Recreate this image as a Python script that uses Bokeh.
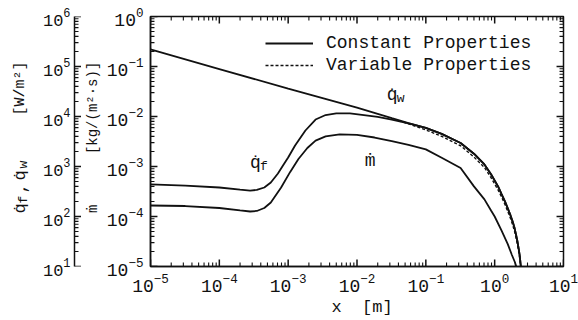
import math
from bokeh.plotting import figure
from bokeh.layouts import row
from bokeh.models import Range1d, Label, Legend, LegendItem
from bokeh.embed import file_html
from bokeh.resources import INLINE

# ---- wall heat flux q_w (constant properties) [W/m^2]
qw_x = [1e-5, 1e-4, 1e-3, 1e-2, 0.032, 0.056, 0.1, 0.17, 0.32, 0.5, 0.71, 0.89,
        1.12, 1.26, 1.41, 1.55, 1.70, 1.82, 1.95, 2.04, 2.14, 2.24, 2.32, 2.40, 2.46]
qw_y = [2.2e5, 8.9e4, 3.6e4, 1.5e4, 9.3e3, 7.4e3, 5.9e3, 4.5e3, 2.95e3, 1.8e3, 1.1e3, 690,
        400, 280, 200, 145, 105, 80, 58, 44, 32, 22, 16, 10, 8]

# ---- flame heat flux q_f (constant properties) [W/m^2]
qf_x = [1e-5, 3.2e-5, 1e-4, 2.0e-4, 2.8e-4, 3.5e-4, 4.5e-4, 5.6e-4, 7.1e-4, 8.5e-4,
        1e-3, 1.26e-3, 1.78e-3, 2.5e-3, 3.5e-3, 5e-3, 7.9e-3, 0.0126, 0.02, 0.032, 0.056,
        0.1, 0.17, 0.32, 0.5, 0.71, 0.89, 1.12, 1.26, 1.41, 1.55, 1.70, 1.82, 1.95,
        2.04, 2.14, 2.24, 2.32, 2.40, 2.46]
qf_y = [440, 415, 380, 345, 330, 340, 380, 480, 725, 1070,
        1510, 2630, 5250, 8700, 1.07e4, 1.15e4, 1.15e4, 1.07e4, 9.8e3, 8.7e3, 7.3e3,
        5.9e3, 4.5e3, 2.95e3, 1.8e3, 1.1e3, 690, 400, 280, 200, 145, 105, 80, 58,
        44, 32, 22, 16, 10, 8]

# ---- pyrolysis mass flux m (constant properties) [kg/(m^2 s)]
m_x = [1e-5, 3.2e-5, 1e-4, 2.0e-4, 2.8e-4, 3.5e-4, 4.5e-4, 5.6e-4, 7.9e-4, 1.07e-3,
       1.41e-3, 1.9e-3, 2.5e-3, 3.5e-3, 5.6e-3, 0.01, 0.018, 0.032, 0.056, 0.1, 0.17,
       0.32, 0.5, 0.71, 0.89, 1.0, 1.26, 1.55, 1.78, 1.95, 2.04, 2.1]
m_y = [1.66e-4, 1.62e-4, 1.48e-4, 1.32e-4, 1.26e-4, 1.29e-4, 1.48e-4, 1.9e-4, 3.8e-4, 7.8e-4,
       1.41e-3, 2.34e-3, 3.3e-3, 4.0e-3, 4.4e-3, 4.3e-3, 3.8e-3, 3.2e-3, 2.7e-3, 2.2e-3, 1.5e-3,
       9.3e-4, 4.0e-4, 2.2e-4, 1.3e-4, 1.0e-4, 5.2e-5, 2.8e-5, 1.7e-5, 1.26e-5, 1.05e-5, 8.9e-6]

# ---- heat flux with variable properties (departs near the trailing edge)
qv_x = [0.04, 0.056, 0.1, 0.17, 0.32, 0.5, 0.71, 0.89, 1.12, 1.26, 1.41, 1.55, 1.70,
        1.82, 1.95, 2.04, 2.14, 2.24, 2.32, 2.40, 2.46]
qv_y = [8.3e3, 7.1e3, 5.4e3, 4.0e3, 2.6e3, 1.55e3, 955, 590, 340, 245, 174, 126, 91,
        69, 50, 38, 27.5, 19.5, 13.8, 8.9, 7.1]

X_EXP = (-5, 1)   # x axis decades
M_EXP = (-5, 0)   # mass-flux axis decades
Q_EXP = (1, 6)    # heat-flux axis decades

FONT = "Liberation Mono"
INK = "#111111"
H = 320
TOP, BOT, LEFT, RIGHT = 16, 54, 66, 15
MAIN_W = 497
MAJ, MIN_ = 7, 4


def decades(lo, hi):
    return [10.0 ** e for e in range(lo, hi + 1)]


def minors(lo, hi):
    return [k * 10.0 ** e for e in range(lo, hi) for k in range(2, 10)]


def style_axis(ax, size="18px", standoff=7):
    ax.axis_line_color = INK
    ax.axis_line_width = 1.5
    ax.major_tick_in = 0
    ax.major_tick_out = 0
    ax.minor_tick_in = 0
    ax.minor_tick_out = 0
    ax.major_label_text_font = FONT
    ax.major_label_text_font_size = size
    ax.major_label_text_color = INK
    ax.major_label_standoff = standoff


def text(fig, t, x, y, size="18px", angle=0.0, **kw):
    fig.add_layout(Label(x=x, y=y, text=t, text_font=FONT, text_font_size=size,
                         text_color=INK, angle=angle, text_baseline="alphabetic",
                         text_align="left", **kw))


# ------------------------------------------------------------------ title strip
t_fig = figure(width=30, height=H, x_range=Range1d(0, 30), y_range=Range1d(0, H),
               x_axis_location=None, y_axis_location=None, min_border=0,
               output_backend="svg", toolbar_location=None)
t_fig.grid.visible = False
t_fig.outline_line_color = None
V = math.pi / 2
sc = dict(x_units="screen", y_units="screen", angle=V)
text(t_fig, "q\u0307", 20, 53, size="17px", **sc)
text(t_fig, "f", 23, 63, size="13px", **sc)
text(t_fig, ",", 20, 73, size="17px", **sc)
text(t_fig, "q\u0307", 20, 86, size="17px", **sc)
text(t_fig, "w", 23, 98, size="13px", **sc)
text(t_fig, "[W/m\u00b2]", 20, 151, size="15px", **sc)

# ------------------------------------------------------------ heat-flux axis
q_lo, q_hi = 10.0 ** Q_EXP[0], 10.0 ** Q_EXP[1]
Q_FRAME_W = 7
q_fig = figure(width=44 + Q_FRAME_W, height=H, y_axis_type="log",
               x_range=Range1d(0, Q_FRAME_W), y_range=Range1d(q_lo, q_hi),
               x_axis_location=None, min_border_left=44, min_border_right=0,
               min_border_top=TOP, min_border_bottom=BOT,
               output_backend="svg", toolbar_location=None)
q_fig.grid.visible = False
q_fig.outline_line_color = None
style_axis(q_fig.left[0], size="17px", standoff=4)
for ys, ln, lw in [(decades(*Q_EXP), MAJ, 1.5), (minors(*Q_EXP), MIN_, 1.1)]:
    q_fig.segment(x0=[0.0] * len(ys), y0=ys, x1=[float(ln)] * len(ys), y1=ys,
                  line_color=INK, line_width=lw)

# ------------------------------------------------------------------ main plot
x_lo, x_hi = 10.0 ** X_EXP[0], 10.0 ** X_EXP[1]
m_lo, m_hi = 10.0 ** M_EXP[0], 10.0 ** M_EXP[1]
p = figure(width=MAIN_W, height=H, x_axis_type="log", y_axis_type="log",
           x_range=Range1d(x_lo, x_hi), y_range=Range1d(m_lo, m_hi),
           output_backend="svg", toolbar_location=None,
           min_border_left=LEFT, min_border_right=RIGHT, min_border_top=TOP,
           min_border_bottom=BOT)
p.extra_y_ranges = {"q": Range1d(q_lo, q_hi)}
p.grid.visible = False
p.outline_line_color = INK
p.outline_line_width = 1.5

bottom = p.below[0]
inner = p.left[0]
style_axis(bottom)
style_axis(inner)

inner.axis_label = "\u00a0m\u0307\u00a0\u00a0\u00a0\u00a0\u00a0\u00a0[kg/(m\u00b2\u00b7s)]"
inner.axis_label_text_font = FONT
inner.axis_label_text_font_style = "normal"
inner.axis_label_text_font_size = "14px"
inner.axis_label_text_color = INK
inner.axis_label_standoff = 3

bottom.axis_label = "\u00a0x\u00a0\u00a0[m]"
bottom.axis_label_text_font = FONT
bottom.axis_label_text_font_size = "17px"
bottom.axis_label_text_font_style = "normal"
bottom.axis_label_standoff = 3
bottom.axis_label_text_color = INK
bottom.major_label_standoff = 6

# inward tick marks on all four frame edges; pixel lengths are turned into
# log-space offsets from the frame's size in pixels per decade
px_x = (MAIN_W - LEFT - RIGHT) / (X_EXP[1] - X_EXP[0])
px_y = (H - TOP - BOT) / (M_EXP[1] - M_EXP[0])
for xs, ln, lw in [(decades(*X_EXP), MAJ, 1.5), (minors(*X_EXP), MIN_, 1.1)]:
    n = len(xs)
    f = 10.0 ** (ln / px_y)
    p.segment(x0=xs, y0=[m_lo] * n, x1=xs, y1=[m_lo * f] * n,
              line_color=INK, line_width=lw)
    p.segment(x0=xs, y0=[m_hi] * n, x1=xs, y1=[m_hi / f] * n,
              line_color=INK, line_width=lw)
for ys, ln, lw in [(decades(*M_EXP), MAJ, 1.5), (minors(*M_EXP), MIN_, 1.1)]:
    n = len(ys)
    f = 10.0 ** (ln / px_x)
    p.segment(x0=[x_lo] * n, y0=ys, x1=[x_lo * f] * n, y1=ys,
              line_color=INK, line_width=lw)
    p.segment(x0=[x_hi] * n, y0=ys, x1=[x_hi / f] * n, y1=ys,
              line_color=INK, line_width=lw)

LW = 1.8
r_qw = p.line(qw_x, qw_y, y_range_name="q", line_color=INK, line_width=LW)
p.line(qf_x, qf_y, y_range_name="q", line_color=INK, line_width=LW)
p.line(m_x, m_y, line_color=INK, line_width=LW)
r_var = p.line(qv_x, qv_y, y_range_name="q", line_color=INK, line_width=1.4,
               line_dash="3 2")

legend = Legend(items=[LegendItem(label="Constant Properties", renderers=[r_qw]),
                       LegendItem(label="Variable Properties", renderers=[r_var])],
                location=(115, 191), padding=0, margin=0, spacing=2,
                glyph_width=48, label_standoff=13,
                label_text_font=FONT, label_text_font_size="18px",
                label_text_color=INK, border_line_color=None,
                background_fill_alpha=0)
p.add_layout(legend)

# curve annotations
text(p, "q\u0307", 0.027, 2.65e4, y_range_name="q")
text(p, "w", 0.027, 2.65e4, size="13px", x_offset=10, y_offset=-3, y_range_name="q")
text(p, "q\u0307", 2.8e-4, 1.2e3, y_range_name="q")
text(p, "f", 2.8e-4, 1.2e3, size="13px", x_offset=10, y_offset=-4, y_range_name="q")
text(p, "m\u0307", 0.013, 1.28e-3)

layout = row(t_fig, q_fig, p, spacing=0)
open("out.html", "w").write(file_html(layout, INLINE))
